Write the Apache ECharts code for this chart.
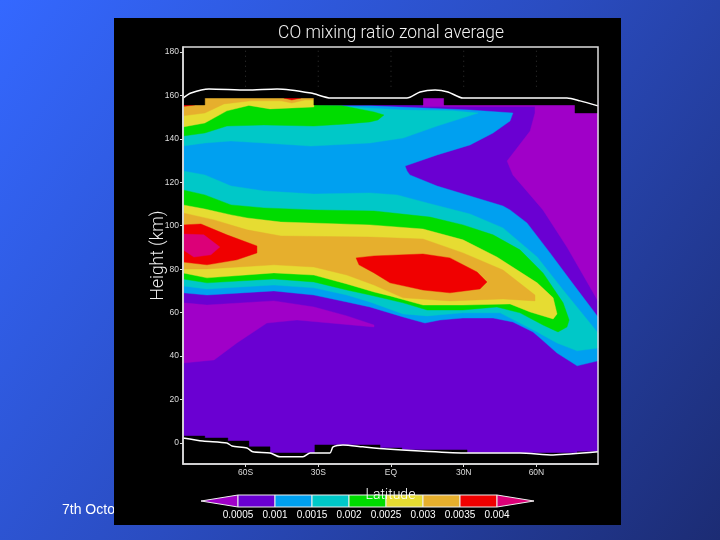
<!DOCTYPE html>
<html><head><meta charset="utf-8">
<style>html,body{margin:0;padding:0;background:#2a48b0}#c{width:720px;height:540px}</style>
<script src="https://cdn.jsdelivr.net/npm/echarts@6/dist/echarts.min.js"></script>
</head><body><div id="c"></div>
<script>
const latTicks = [-60,-30,0,30,60];
const latNames = {'-60':'60S','-30':'30S','0':'EQ','30':'30N','60':'60N'};
const heightTicks = [0,20,40,60,80,100,120,140,160,180];
const levelLabels = ['0.0005','0.001','0.0015','0.002','0.0025','0.003','0.0035','0.004'];
const levelColors = ['#a000c8','#6a00d2','#00a0f0','#00c8c8','#00dc00','#e6dc32','#e6af2d','#f00000','#dc0078'];
const [MAGENTA,VIOLET,BLUE,TEAL,GREEN,YELLOW,ORANGE,RED,CRIMSON] = levelColors;

const domain = [[-85.8,158.8],[85.4,158.8],[85.4,-9.7],[-85.8,-9.7]];
const magentaRight = [[13.2,158.8],[21.9,158.8],[21.9,155.6],[85.4,155.6],[85.4,65.4],[72.6,90.2],[62.7,107.3],[57.4,114.2],[50.3,123.4],[47.9,129.8],[57.4,143.6],[59.4,151.9],[59.4,154.9],[13.2,154.9]];
const magentaLeft = [[-85.8,64.5],[-75.9,63.5],[-48.3,65.4],[-31.8,62.6],[-18.2,58.5],[-7,54.3],[-7,53.4],[-38.8,56.6],[-51.2,55.2],[-63.6,46],[-73,38.2],[-85.8,36.8]];
const blueBand = [[-85.8,158.8],[-31.8,158.8],[-31.8,155.2],[-8.7,155.2],[32.6,153.3],[50.3,151.9],[49.1,148.2],[42.1,142.7],[32.6,137.2],[19,132.6],[5.8,127.5],[6.6,125.2],[7.8,123.4],[19,118.3],[32.6,113.7],[46.2,109.1],[49.1,107.3],[56.1,101.3],[65.6,87.5],[73.9,75],[85.4,58],[85.4,37.8],[76.8,35.5],[68.5,41.4],[61.5,48.3],[58.6,51.1],[50.3,55.7],[42.1,57.5],[29.7,57.5],[20.2,56.6],[14,55.2],[5,58],[-8.7,62.6],[-18.2,64.9],[-31.8,68.1],[-48.3,70],[-75.9,68.1],[-85.8,69.1]];
const tealUpper = [[-85.8,158.8],[-31.8,158.8],[-31.8,155.4],[-16.9,154.7],[5,153.3],[25.6,152.9],[35.9,151.9],[19,145.9],[5,140.4],[-8.7,138.1],[-33,136.7],[-52.4,138.1],[-66,139],[-76.8,138.1],[-85.8,136.7]];
const tealLower = [[-85.8,125.2],[-76.8,123.4],[-66,118.3],[-52.4,116],[-31.8,114.6],[-8.7,115.1],[2.5,114.2],[14.9,110.5],[32.6,105.4],[46.2,99],[60.3,85.6],[71,70.4],[85.4,50.6],[85.4,43.7],[76.8,42.4],[68.5,46],[60.3,51.1],[53.2,55.2],[45,59.9],[29.7,59.9],[14.9,58.5],[5,59.4],[-8.7,64.9],[-18.2,68.1],[-31.8,71.4],[-48.3,72.7],[-75.9,70.9],[-85.8,72.3]];
const greenUpper = [[-85.8,158.8],[-31.8,158.8],[-31.8,155.6],[-20.6,155.4],[-7,152.4],[-2.9,151],[-5.4,148.7],[-8.7,147.8],[-18.2,146.9],[-31.8,145.9],[-52.4,146.4],[-67.7,145.9],[-76.8,142.7],[-85.8,141.3]];
const greenLower = [[-85.8,116.5],[-76.8,114.2],[-66,109.6],[-52.4,108.2],[-31.8,107.3],[-7,106.8],[16.1,104],[29.7,100.4],[42.1,95.8],[53.2,88.9],[62.7,78.3],[71,64.5],[73.5,56.6],[72.6,53.4],[68.9,51.1],[62.7,54.3],[53.2,59.9],[43.7,62.6],[29.7,61.2],[14.9,61.2],[5,64.5],[-8.7,68.1],[-18.2,70.4],[-31.8,74.1],[-48.3,75.5],[-75.9,73.7],[-85.8,75.5]];
const yellowUpper = [[-85.8,158.8],[-31.8,158.8],[-31.8,154.7],[-49.9,153.8],[-58.6,155.4],[-67.7,152.9],[-76.8,147.3],[-85.8,145.5]];
const yellowLower = [[-85.8,109.6],[-76.8,107.7],[-66,105],[-59.4,103.6],[-45.4,101.7],[-8.7,100.4],[13.2,98.5],[29.7,93.5],[43.7,85.6],[60.3,73.7],[66.9,66.8],[68.5,59.4],[66.9,57.1],[57.4,60.3],[49.1,64],[29.7,63.5],[13.2,63.5],[-0.4,67.7],[-7,69.5],[-18.2,73.2],[-31.8,77.3],[-48.3,78.3],[-75.9,76],[-85.8,78.3]];
const orangeUpper = [[-85.8,158.8],[-31.8,158.8],[-31.8,157.9],[-35.5,157.9],[-40.9,156.5],[-45.4,157.5],[-57.8,157.5],[-68.9,156.1],[-76.8,151.9],[-85.8,150.6]];
const orangeLower = [[-85.8,105.9],[-73,102.7],[-59.4,98.1],[-45.4,95.3],[-8.7,94.8],[13.2,93.9],[29.7,87.5],[46.2,79.6],[59.4,68.1],[59.4,65.4],[46.2,66.3],[24.3,65.4],[5,66.8],[-7,72.7],[-18.2,77.3],[-31.8,81],[-48.3,82],[-75.9,80.1],[-85.8,80.1]];
const redPeak = [[-44.2,158.8],[-37.1,158.8],[-40.9,157.9]];
const redCorner = [[-85.8,158],[-80.9,158],[-80.9,155.6],[-85.8,154.9]];
const redLeft = [[-85.8,100.4],[-78.4,100.8],[-67.7,95.8],[-55.3,90.7],[-55.3,87.5],[-63.6,84.3],[-75.9,82],[-85.8,83.3]];
const redRight = [[-14.4,85.2],[-7,86.1],[13.2,87],[24.3,85.2],[35.5,78.7],[39.6,74.1],[36.7,70.9],[24.3,69.1],[13.2,70.4],[-0.4,73.7],[-7,78.3],[-13.2,82]];
const crimsonCore = [[-85.8,96.2],[-77.2,95.8],[-70.6,90.2],[-74.3,86.6],[-81.3,85.6],[-85.8,88.9]];
const maskTop = [[-85.8,182.3],[85.4,182.3],[85.4,151.9],[75.9,151.9],[75.9,155.6],[21.9,155.6],[21.9,158.8],[13.2,158.8],[13.2,155.6],[-31.8,155.6],[-31.8,158.8],[-76.8,158.8],[-76.8,155.6],[-85.8,155.6]];
const maskBottom = [[-85.8,-9.7],[85.4,-9.7],[85.4,-4.1],[76.8,-4.1],[76.8,-4.6],[31.4,-4.6],[31.4,-3.2],[4.5,-3.2],[4.5,-2.3],[-4.5,-2.3],[-4.5,-0.9],[-31.4,-0.9],[-31.4,-4.6],[-49.9,-4.6],[-49.9,-1.8],[-58.6,-1.8],[-58.6,0.9],[-67.3,0.9],[-67.3,2.3],[-76.8,2.3],[-76.8,3.2],[-85.8,3.2]];
const upperSurface = [[-85.8,158.8],[-82.5,161.1],[-75.1,163],[-59.4,162.5],[-47,163],[-33,161.1],[-24.8,158.8],[6.6,158.8],[12,161.6],[18.2,162.5],[23.5,161.6],[29.7,158.8],[72.6,158.8],[78,157.5],[85.4,155.2]];
const lowerSurface = [[-85.8,2.3],[-77.6,0.9],[-67.7,0],[-65.6,-1.4],[-59.4,-2.3],[-57,-4.1],[-49.9,-4.6],[-45.8,-6.4],[-36.3,-6.4],[-33.4,-4.6],[-25.2,-4.6],[-23.9,-1.8],[-19.8,-0.9],[-11.6,-1.8],[-1.7,-2.8],[12,-3.7],[31.4,-4.6],[53.2,-4.6],[66.9,-5.5],[85.4,-4.1]];

const layers = [
 [domain,VIOLET],[magentaRight,MAGENTA],[magentaLeft,MAGENTA],[blueBand,BLUE],
 [tealUpper,TEAL],[tealLower,TEAL],[greenUpper,GREEN],[greenLower,GREEN],
 [yellowUpper,YELLOW],[yellowLower,YELLOW],[orangeUpper,ORANGE],[orangeLower,ORANGE],
 [redPeak,RED],[redCorner,RED],[redLeft,RED],[redRight,RED],[crimsonCore,CRIMSON],
 [maskTop,'#000'],[maskBottom,'#000']
];
const FONT = '"Liberation Sans",sans-serif';
const band = ([pts,fill]) => ({
  type:'custom', xAxisIndex:0, yAxisIndex:0, silent:true, clip:false, data:[[pts[0][0],pts[0][1]]],
  renderItem:(p,api)=>({type:'polygon',shape:{points:pts.map(q=>api.coord(q))},style:{fill,stroke:fill,lineWidth:0.4}})
});
const surface = d => ({type:'line',xAxisIndex:0,yAxisIndex:0,data:d,showSymbol:false,smooth:0.25,silent:true,
  lineStyle:{color:'#fff',width:1.5}});

const chart = echarts.init(document.getElementById('c'),null,{renderer:'canvas'});
chart.setOption({
  animation:false,
  backgroundColor:new echarts.graphic.LinearGradient(0,0,1,1,[{offset:0,color:'#3468ff'},{offset:0.5,color:'#2a4cc0'},{offset:1,color:'#1c2c74'}]),
  graphic:[
    {type:'text',left:62,top:503,silent:true,z:0,style:{text:'7th Octo',fill:'#fff',font:'14px "Liberation Sans"'}},
    {type:'rect',left:114,top:18,silent:true,z:1,shape:{width:507,height:507},style:{fill:'#000'}},
    {type:'text',x:391,y:33,silent:true,z:12,scaleY:1.1,
     style:{text:'CO mixing ratio zonal average',fill:'#f2f2f2',font:'300 17.4px Roboto',align:'center',verticalAlign:'middle'}}
  ],
  grid:[
    {left:183,right:122,top:47,bottom:76},
    {left:238,width:259,top:495,height:12}
  ],
  xAxis:[
    {type:'value',gridIndex:0,min:-85.8,max:85.4,z:10,splitLine:{show:false},
     name:'Latitude',nameLocation:'center',nameGap:24,nameMoveOverlap:false,
     nameTextStyle:{color:'#fff',fontFamily:'Roboto',fontWeight:300,fontSize:14},
     axisLine:{onZero:false,lineStyle:{color:'#ddd',width:1.5}},
     axisTick:{customValues:latTicks,length:3,lineStyle:{color:'#ddd'}},
     axisLabel:{customValues:latTicks,color:'#ddd',fontFamily:FONT,fontSize:8.5,margin:4,formatter:v=>latNames[String(v)]}},
    {type:'value',gridIndex:1,min:0,max:7,interval:1,z:8,splitLine:{show:false},
     axisLine:{show:false},axisTick:{show:false},
     axisLabel:{color:'#fff',fontFamily:FONT,fontSize:10,margin:3,showMinLabel:true,showMaxLabel:true,formatter:v=>levelLabels[v]}}
  ],
  yAxis:[
    {type:'value',gridIndex:0,min:-9.7,max:182.3,z:10,splitLine:{show:false},
     name:'Height (km)',nameLocation:'center',nameGap:15,nameRotate:90,nameMoveOverlap:false,
     nameTextStyle:{color:'#eee',fontFamily:'Roboto',fontWeight:300,fontSize:17.5},
     axisLine:{onZero:false,lineStyle:{color:'#ddd',width:1.5}},
     axisTick:{customValues:heightTicks,length:3,lineStyle:{color:'#ddd'}},
     axisLabel:{customValues:heightTicks,color:'#ddd',fontFamily:FONT,fontSize:8.5,margin:4}},
    {type:'value',gridIndex:1,min:0,max:1,show:false}
  ],
  series:[
    ...layers.map(band),
    {type:'custom',xAxisIndex:0,yAxisIndex:0,silent:true,clip:false,data:latTicks.map(v=>[v]),
     renderItem:(p,api)=>{const a=api.coord([api.value(0),164]),b=api.coord([api.value(0),182.3]);
       return {type:'line',shape:{x1:a[0],y1:a[1],x2:b[0],y2:b[1]},style:{stroke:'#333',lineWidth:1,lineDash:[1,4]}};}},
    surface(upperSurface),
    surface(lowerSurface),
    {type:'custom',xAxisIndex:0,yAxisIndex:0,silent:true,clip:false,data:[[0,0]],z:9,
     renderItem:(p,api)=>({type:'polygon',shape:{points:[[-85.8,-9.7],[85.4,-9.7],[85.4,182.3],[-85.8,182.3]].map(q=>api.coord(q))},
       style:{fill:'none',stroke:'#ddd',lineWidth:1.5}})},
    {type:'custom',xAxisIndex:1,yAxisIndex:1,silent:true,clip:false,data:levelColors.map((c,i)=>[i]),
     renderItem:(p,api)=>{const i=api.value(0);
       const pts=i===0?[[-1,.5],[0,1],[0,0]]:i===8?[[7,1],[8,.5],[7,0]]:[[i-1,1],[i,1],[i,0],[i-1,0]];
       return {type:'polygon',shape:{points:pts.map(q=>api.coord(q))},style:{fill:levelColors[i],stroke:'#eee',lineWidth:1}};}}
  ]
});
</script></body></html>
